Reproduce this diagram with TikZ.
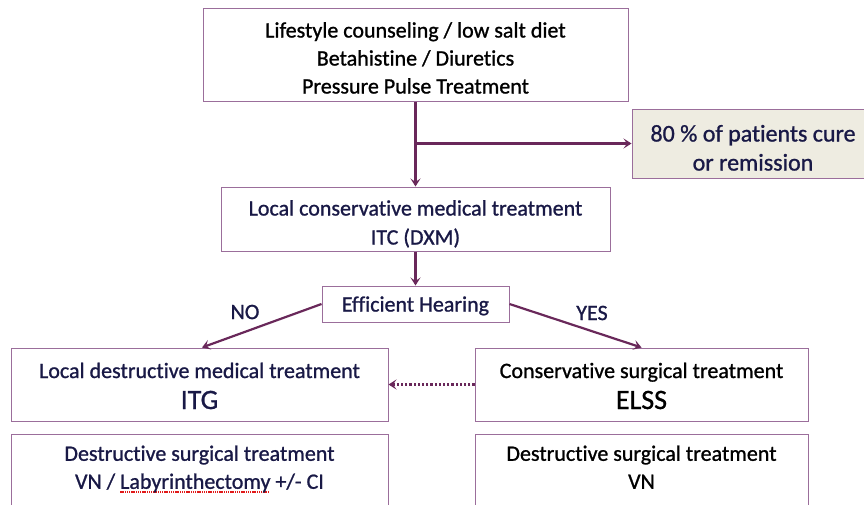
\documentclass[tikz,border=0pt]{standalone}
\usepackage{fontspec}
\setmainfont{Carlito}[Ligatures=NoCommon, FakeBold=1]
\usetikzlibrary{arrows.meta,positioning}
\definecolor{plum}{RGB}{155,110,155}
\definecolor{darkplum}{RGB}{105,40,90}
\definecolor{navy}{RGB}{25,25,70}
\definecolor{beige}{RGB}{238,236,225}
\definecolor{squigred}{RGB}{225,25,25}
% spell-check underline
\newsavebox\squigbox
\newcommand\squig[1]{\sbox\squigbox{#1}\rlap{\raisebox{-0.4ex}{\textcolor{squigred}{\hbox to \wd\squigbox{\leaders\hbox{\textcolor{squigred}{\rule{1.5pt}{1.5pt}}\kern0.7pt}\hfill}}}}#1}
% taller first line
\newcommand\lift[1]{\rule{0pt}{#1}}

\begin{document}
\begin{tikzpicture}[x=1pt,y=-1pt,
  box/.style={draw=plum, line width=1pt, fill=white, align=center, inner sep=0pt,
    text depth=0pt, font=\fontsize{22}{28}\selectfont},
  flow/.style={draw=darkplum, line width=2.2pt, -{Stealth[length=8pt,width=10pt,inset=3.5pt]}},
  lab/.style={text=navy, font=\fontsize{22}{28}\selectfont}]

  \useasboundingbox (0,0) rectangle (864,504);

  % first line
  \node[box, minimum width=425pt, minimum height=93pt] (lifestyle) at (415.5,54.5)
    {\lift{22pt}Lifestyle counseling / low salt diet\\Betahistine / Diuretics\\Pressure Pulse Treatment};
  \node[box, fill=beige, text=navy, minimum width=242pt, minimum height=69pt,
    font=\fontsize{24}{29}\selectfont] (cure) at (753,143.5)
    {\lift{25pt}80 \% of patients cure\\or remission};

  % second line
  \node[box, text=navy, minimum width=389pt, minimum height=64pt,
    font=\fontsize{22}{29}\selectfont] (itc) at (415.5,219)
    {\lift{22pt}Local conservative medical treatment\\ITC (DXM)};
  \node[box, text=navy, minimum width=187pt, minimum height=36pt] (hearing) at (415.5,304)
    {Efficient Hearing};

  % NO / YES
  \node[box, text=navy, minimum width=377pt, minimum height=73pt] (itg) at (199.5,384.5)
    {\lift{18pt}Local destructive medical treatment\\[3pt]{\fontsize{28}{30}\selectfont ITG}};
  \node[box, minimum width=333pt, minimum height=73pt] (elss) at (641.5,384.5)
    {\lift{18pt}Conservative surgical treatment\\[3pt]{\fontsize{28}{30}\selectfont ELSS}};

  \node[box, text=navy, anchor=north, minimum width=377pt, inner ysep=11pt]
    (lab) at (199.5,434)
    {Destructive surgical treatment\\VN / \squig{Labyrinthectomy} +/- CI\\[20pt]};
  \node[box, anchor=north, minimum width=333pt, inner ysep=11pt]
    (vn) at (641.5,434)
    {Destructive surgical treatment\\VN\\[20pt]};

  \node[lab] (no) at (245,312) {NO};
  \node[lab] (yes) at (592,313) {YES};

  \draw[flow] (lifestyle.south) -- (itc.north);
  \draw[flow] (lifestyle.south |- cure.west) -- (cure.west);
  \draw[flow] (itc.south) -- (hearing.north);
  \draw[flow] (hearing.west) -- ([xshift=2.5pt]itg.north);
  \draw[flow] (hearing.east) -- (elss.north);
  \draw[flow, dotted] (elss.west) -- (itg.east);

\end{tikzpicture}
\end{document}
